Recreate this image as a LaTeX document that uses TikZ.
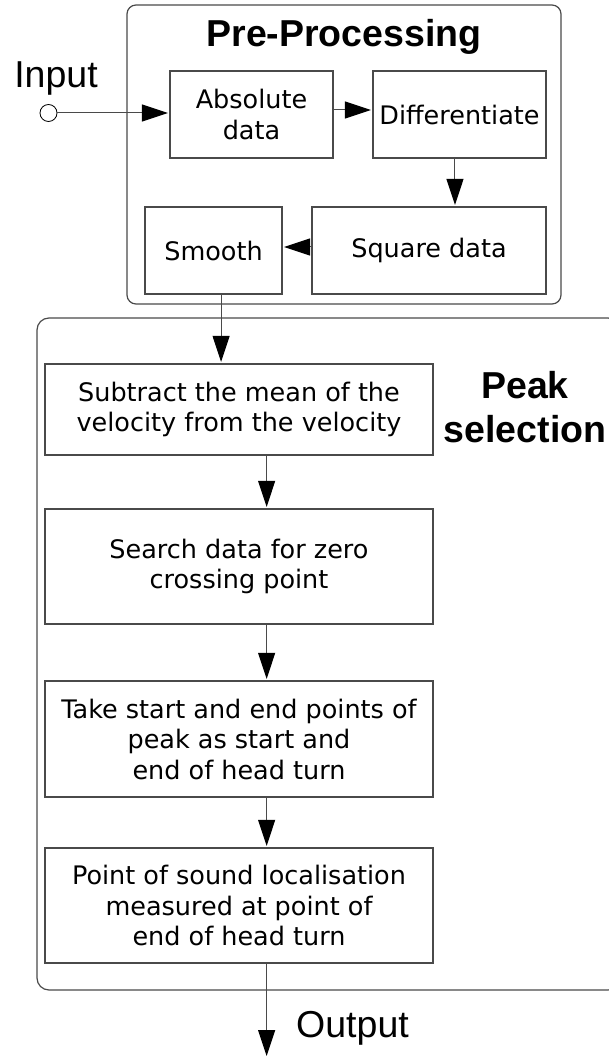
\documentclass[tikz,border=0pt]{standalone}
\usepackage{fontspec}
\setmainfont{DejaVu Sans}
\newfontfamily\headfont{Liberation Sans}
\usetikzlibrary{arrows.meta,calc}
\definecolor{edge}{HTML}{4A4A4A}
\begin{document}
\begin{tikzpicture}[x=1pt,y=-1pt,
  stepbox/.style={draw=edge,line width=1.2pt,rectangle,inner sep=0pt,align=center,
    font=\fontsize{25.5}{30.5}\selectfont},
  group/.style={draw=edge,line width=1.2pt,rounded corners=#1},
  conn/.style={draw=edge,line width=1pt,-{Triangle[length=26pt,width=17pt,color=black]},shorten >=1.5pt},
  title/.style={font=\headfont\bfseries\fontsize{37.5}{44}\selectfont,inner sep=0pt},
  label/.style={font=\headfont\fontsize{37.5}{44}\selectfont,inner sep=0pt}]
\useasboundingbox (0,0) rectangle (609,1056);

% group frames
\draw[group=9pt] (127,5) rectangle (561,304);
\draw[group=12pt] (37,318) rectangle (620,990);

% group titles and outer labels
\node[title,anchor=base] (pretitle) at (344,47) {Pre-Processing};
\node[title,anchor=base] (peaktitle) at (525,398) {Peak};
\node[title,anchor=base] (seltitle) at (525,442) {selection};
\node[label,anchor=base] (inlabel) at (56,88) {Input};
\node[label,anchor=base west] (outlabel) at (296,1037) {Output};

% pre-processing steps
\node[stepbox,minimum width=163pt,minimum height=87pt] (abs) at (251.5,114.5) {Absolute\\data};
\node[stepbox,minimum width=173pt,minimum height=87pt] (diff) at (459.5,114.5) {Differentiate};
\node[stepbox,minimum width=234pt,minimum height=87pt] (sq) at (429,250.5) {Square data};
\node[stepbox,minimum width=137pt,minimum height=87pt] (smooth) at (213.5,250.5) {Smooth};

% peak selection steps
\node[stepbox,minimum width=388pt,minimum height=91pt] (sub) at (239,409.5) {Subtract the mean of the\\velocity from the velocity};
\node[stepbox,minimum width=388pt,minimum height=115pt] (search) at (239,566.5) {Search data for zero\\crossing point};
\node[stepbox,minimum width=388pt,minimum height=116pt] (take) at (239,739) {Take start and end points of\\peak as start and\\end of head turn};
\node[stepbox,minimum width=388pt,minimum height=115pt] (point) at (239,905.5) {Point of sound localisation\\measured at point of\\end of head turn};

% input terminal and output end
\node[draw=black,line width=0.8pt,circle,minimum size=17pt,inner sep=0pt,fill=white] (in) at (48.5,113) {};
\coordinate (out) at (266,1056);

% connectors
\draw[conn] (in.east) -- (abs.west |- in.east);
\draw[conn] (abs.east |- 0,110) -- (diff.west |- 0,110);
\draw[conn] ($(diff.south west)!0.474!(diff.south east)$) coordinate (d1) -- (d1 |- sq.north);
\draw[conn] (sq.west |- 0,247) -- (smooth.east |- 0,247);
\draw[conn] ($(smooth.south west)!0.555!(smooth.south east)$) coordinate (s1) -- (s1 |- sub.north);
\draw[conn] ($(sub.south west)!0.571!(sub.south east)$) coordinate (a1) -- (a1 |- search.north);
\draw[conn] ($(search.south west)!0.571!(search.south east)$) coordinate (a2) -- (a2 |- take.north);
\draw[conn] ($(take.south west)!0.571!(take.south east)$) coordinate (a3) -- (a3 |- point.north);
\draw[conn,shorten >=0pt] ($(point.south west)!0.571!(point.south east)$) coordinate (a4) -- (a4 |- out);
\end{tikzpicture}
\end{document}
